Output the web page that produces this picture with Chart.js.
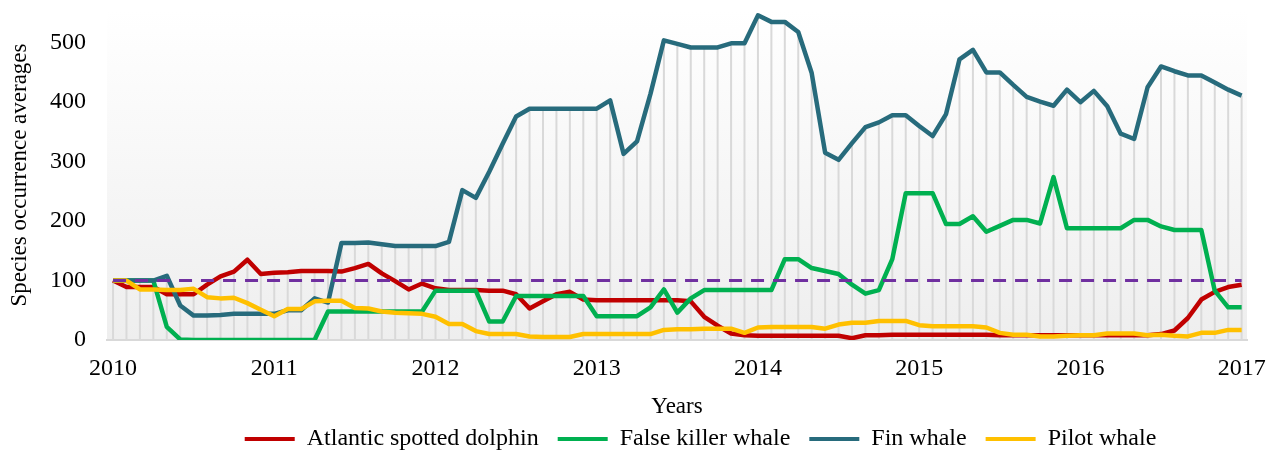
<!DOCTYPE html>
<html>
<head>
<meta charset="utf-8">
<script src="https://cdn.jsdelivr.net/npm/chart.js@4"></script>
<style>
  html, body { margin: 0; padding: 0; background: #ffffff; }
  #wrap { width: 1277px; height: 450px; }
</style>
</head>
<body>
<div id="wrap"><canvas id="speciesChart" width="1277" height="450"></canvas></div>
<script>
// Rótulos do eixo x (um a cada 12 meses)
const yearLabels = ['2010', '2011', '2012', '2013', '2014', '2015', '2016', '2017'];

// Médias mensais, jan/2010 até jan/2017
const dolphin = [100, 89, 89, 89, 77, 77, 77, 93, 107, 115, 135, 111,
    113, 114, 116, 116, 116, 115, 121, 128, 112, 99, 85, 95,
    87, 84, 84, 84, 83, 83, 77, 53, 65, 77, 81, 68,
    67, 67, 67, 67, 67, 67, 67, 65, 39, 24, 11, 8,
    7, 7, 7, 7, 7, 7, 7, 3, 8, 8, 9, 9,
    9, 9, 9, 9, 9, 9, 8, 8, 8, 8, 8, 8,
    8, 8, 8, 8, 8, 8, 10, 16, 37, 68, 81, 89,
    93];

const falseKiller = [100, 100, 100, 100, 22, 1, 0, 0, 0, 0, 0, 0,
    0, 0, 0, 0, 48, 48, 48, 48, 48, 48, 48, 48,
    83, 83, 83, 83, 31, 31, 74, 74, 74, 74, 74, 74,
    40, 40, 40, 40, 55, 85, 46, 70, 84, 84, 84, 84,
    84, 84, 136, 136, 121, 116, 111, 93, 78, 84, 136, 247,
    247, 247, 195, 195, 208, 182, 192, 202, 202, 196, 274, 188,
    188, 188, 188, 188, 202, 202, 191, 185, 185, 185, 83, 55,
    55];

const finWhale = [100, 100, 100, 100, 108, 58, 41, 41, 42, 44, 44, 44,
    44, 50, 50, 70, 63, 163, 163, 164, 161, 158, 158, 158,
    158, 165, 252, 239, 283, 330, 376, 389, 389, 389, 389, 389,
    389, 403, 313, 334, 414, 504, 498, 492, 492, 492, 499, 499,
    546, 535, 535, 518, 449, 315, 303, 331, 358, 366, 378, 378,
    360, 343, 380, 472, 488, 450, 450, 429, 409, 401, 394, 421,
    400, 419, 393, 347, 338, 425, 460, 452, 445, 445, 433, 421,
    411];

const pilotWhale = [100, 100, 85, 85, 84, 84, 86, 72, 70, 71, 62, 51,
    40, 52, 52, 65, 66, 66, 54, 53, 48, 46, 45, 44,
    39, 27, 27, 15, 10, 10, 10, 6, 5, 5, 5, 10,
    10, 10, 10, 10, 10, 17, 18, 18, 19, 19, 19, 12,
    21, 22, 22, 22, 22, 19, 26, 29, 29, 32, 32, 32,
    25, 23, 23, 23, 23, 21, 12, 9, 9, 6, 6, 7,
    8, 8, 11, 11, 11, 8, 9, 7, 6, 12, 12, 17,
    17];

// Linha de referência (100)
const reference = dolphin.map(() => 100);

const monthIndex = dolphin.map((_, i) => i);

// Fundo em degradê na área do gráfico
const plotBackground = {
    id: 'plotBackground',
    beforeDraw(chart) {
        const { ctx, chartArea } = chart;
        const grad = ctx.createLinearGradient(0, chartArea.top, 0, chartArea.bottom);
        grad.addColorStop(0, '#ffffff');
        grad.addColorStop(1, '#eeeeee');
        ctx.save();
        ctx.fillStyle = grad;
        ctx.fillRect(chartArea.left, chartArea.top, chartArea.right - chartArea.left, chartArea.bottom - chartArea.top);
        ctx.restore();
    }
};

// Linhas verticais do ponto mais alto até o eixo
const dropLines = {
    id: 'dropLines',
    beforeDatasetsDraw(chart) {
        const { ctx } = chart;
        const base = chart.scales.y.getPixelForValue(0);
        const metas = [0, 1, 2, 3].map(d => chart.getDatasetMeta(d));
        ctx.save();
        ctx.strokeStyle = '#d9d9d9';
        ctx.lineWidth = 2;
        metas[0].data.forEach((pt, i) => {
            let top = base;
            metas.forEach(m => { top = Math.min(top, m.data[i].y); });
            ctx.beginPath();
            ctx.moveTo(pt.x, top);
            ctx.lineTo(pt.x, base);
            ctx.stroke();
        });
        ctx.restore();
    }
};

// Ajuste da posição da legenda
const legendShift = {
    id: 'legendShift',
    afterLayout(chart) {
        const lg = chart.legend;
        lg.left += 77;
        lg.right += 77;
        lg.top -= 8;
        lg.bottom -= 8;
    }
};

function serie(label, data, color, order) {
    return {
        label: label,
        data: data,
        borderColor: color,
        backgroundColor: color,
        borderWidth: 4.5,
        pointRadius: 0,
        tension: 0,
        borderJoinStyle: 'round',
        order: order
    };
}

const ctx = document.getElementById('speciesChart').getContext('2d');
const speciesChart = new Chart(ctx, {
    type: 'line',
    data: {
        labels: monthIndex,
        datasets: [
            serie('Atlantic spotted dolphin', dolphin, '#c00000', 5),
            serie('False killer whale', falseKiller, '#00b050', 4),
            serie('Fin whale', finWhale, '#276b7c', 3),
            serie('Pilot whale', pilotWhale, '#ffc000', 2),
            {
                label: 'ref',
                data: reference,
                borderColor: '#7030a0',
                borderWidth: 3,
                borderDash: [13, 9],
                pointRadius: 0,
                order: 1
            }
        ]
    },
    options: {
        responsive: false,
        animation: false,
        layout: { padding: { top: 10, right: 30, left: 0, bottom: -19 } },
        plugins: {
            tooltip: { enabled: false },
            legend: {
                position: 'bottom',
                labels: {
                    font: { family: 'Liberation Serif', size: 24 },
                    color: '#000000',
                    boxWidth: 50,
                    boxHeight: 4,
                    padding: 19,
                    filter: item => item.datasetIndex < 4,
                    sort: (a, b) => a.datasetIndex - b.datasetIndex,
                    generateLabels(chart) {
                        const items = Chart.defaults.plugins.legend.labels.generateLabels(chart);
                        items.forEach(it => { it.lineWidth = 0; it.fillStyle = it.strokeStyle; it.lineDash = []; });
                        return items;
                    }
                }
            }
        },
        scales: {
            x: {
                type: 'linear',
                min: -0.45,
                max: 84.4,
                grid: { display: false, drawTicks: false },
                border: { display: true, color: '#d9d9d9', width: 2 },
                afterBuildTicks(scale) {
                    scale.ticks = yearLabels.map((_, k) => ({ value: k * 12 }));
                },
                afterFit(scale) {
                    scale.height = 76;
                    scale.paddingLeft = 0;
                    scale.paddingRight = 0;
                },
                ticks: {
                    autoSkip: false,
                    maxRotation: 0,
                    padding: 17,
                    color: '#000000',
                    font: { family: 'Liberation Serif', size: 24, lineHeight: 1 },
                    callback: v => yearLabels[v / 12]
                },
                title: {
                    display: true,
                    text: 'Years',
                    color: '#000000',
                    font: { family: 'Liberation Serif', size: 23, lineHeight: 1 },
                    padding: { top: 13, bottom: -2 }
                }
            },
            y: {
                min: 0,
                max: 555,
                grid: { display: false, drawTicks: false },
                border: { display: false },
                afterFit(scale) {
                    scale.width = 107;
                    scale.paddingTop = 0;
                    scale.paddingBottom = 0;
                },
                ticks: {
                    stepSize: 100,
                    includeBounds: false,
                    padding: 21,
                    color: '#000000',
                    font: { family: 'Liberation Serif', size: 24 }
                },
                title: {
                    display: true,
                    text: 'Species occurrence averages',
                    color: '#000000',
                    font: { family: 'Liberation Serif', size: 23, lineHeight: 1.2 },
                    padding: { top: 6, bottom: 0 }
                }
            }
        }
    },
    plugins: [plotBackground, dropLines, legendShift]
});
</script>
</body>
</html>
